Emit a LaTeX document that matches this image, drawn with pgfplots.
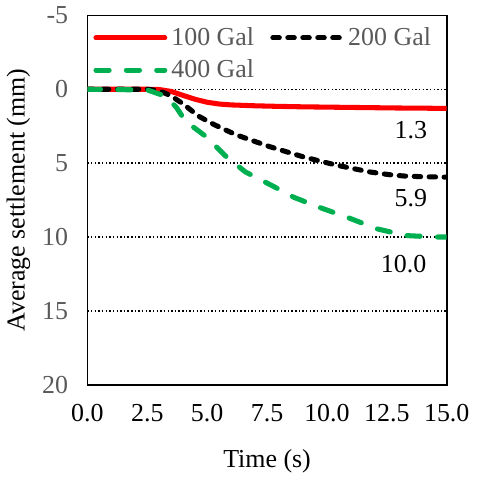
\documentclass[border=0pt]{standalone}
\usepackage{pgfplots}
\pgfplotsset{compat=1.18}
\usepackage{fontspec}
\setmainfont{Liberation Serif}
\definecolor{gxl}{HTML}{00B050}
\definecolor{txtgray}{HTML}{595959}
\begin{document}
\begin{tikzpicture}
\begin{axis}[
    scale only axis,
    width=177.5pt,
    height=182.5pt,
    xmin=0, xmax=15,
    ymin=-5, ymax=20,
    y dir=reverse,
    xtick={0,2.5,...,15},
    ytick={-5,0,5,10,15,20},
    x tick label style={/pgf/number format/fixed, /pgf/number format/fixed zerofill,
        /pgf/number format/precision=1, yshift=-6pt},
    /pgf/number format/assume math mode=true,
    major tick length=0pt,
    ymajorgrids,
    major grid style={black, line width=0.7pt, dash pattern=on 0.7pt off 1.1pt},
    axis line style={black, line width=0.8pt},
    tick label style={font=\fontsize{12.8}{15}\selectfont},
    y tick label style={text=txtgray, xshift=-6pt},
    label style={font=\fontsize{12.8}{15}\selectfont},
    xlabel={Time (s)},
    ylabel={Average settlement (mm)},
    xlabel style={yshift=-7pt},
    ylabel style={yshift=-1pt},
    legend columns=2,
    legend style={at={(0.01,0.985)}, anchor=north west, draw=none, fill=none,
        font=\fontsize{12.8}{14}\selectfont, text=txtgray,
        inner sep=1pt, row sep=1.5pt,
        /tikz/every even column/.append style={column sep=6pt}},
    legend image code/.code={\draw[#1] (0pt,0pt) -- (34pt,0pt);},
]
\addplot[red, line width=2.5pt, line cap=round] coordinates {
    (0,0) (2.5,0) (3.0,0.02) (3.5,0.15) (4.0,0.42) (4.5,0.68) (5.0,0.88)
    (5.5,1.0) (6.0,1.06) (7.0,1.12) (8.0,1.16) (9.0,1.19) (10.0,1.21)
    (11.0,1.23) (12.0,1.25) (13.0,1.27) (14.0,1.28) (15.0,1.3)
};
\addlegendentry{100 Gal}
\addplot[black, line width=2.5pt, line cap=round, dash pattern=on 3.2pt off 4.2pt] coordinates {
    (0,0) (2.5,0) (3.0,0.1) (3.5,0.45) (4.0,1.0) (4.65,1.83) (5.3,2.4)
    (6.2,3.08) (7.6,3.88) (9.0,4.57) (10.4,5.14) (11.8,5.6) (12.6,5.78)
    (13.2,5.87) (14.0,5.92) (15.0,5.95)
};
\addlegendentry{200 Gal}
\addplot[gxl, line width=2.5pt, line cap=round, dash pattern=on 6.5pt off 8.5pt] coordinates {
    (0,0) (2.5,0.05) (3.25,0.46) (3.7,1.2) (4.1,2.17) (4.95,3.2) (5.8,4.57)
    (6.6,5.6) (7.8,6.6) (8.6,7.3) (9.7,8.0) (10.9,8.7) (12.1,9.45)
    (13.3,9.9) (14.5,10.0) (15.0,10.0)
};
\addlegendentry{400 Gal}
\node[font=\fontsize{12.8}{15}\selectfont] at (axis cs:13.5,2.75) {1.3};
\node[font=\fontsize{12.8}{15}\selectfont] at (axis cs:13.5,7.4) {5.9};
\node[font=\fontsize{12.8}{15}\selectfont] at (axis cs:13.2,11.85) {10.0};
\end{axis}
\end{tikzpicture}
\end{document}
